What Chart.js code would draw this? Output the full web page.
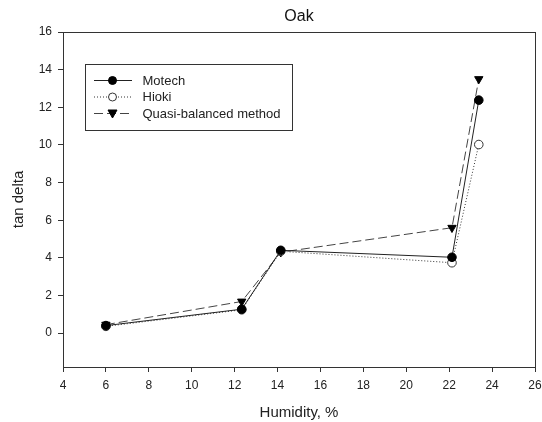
<!DOCTYPE html>
<html>
<head>
<meta charset="utf-8">
<script src="https://cdn.jsdelivr.net/npm/chart.js@4"></script>
<style>
  html, body { margin: 0; padding: 0; background: #fff; }
  #wrap { width: 542px; height: 422px; }
</style>
</head>
<body>
<div id="wrap"><canvas id="myChart" width="542" height="422"></canvas></div>
<script>
// values
const humidity = [6, 12.33, 14.15, 22.13, 23.38];
const motech = [0.4, 1.27, 4.4, 4.03, 12.38];
const hioki = [0.36, 1.24, 4.35, 3.74, 10.02];
const quasi = [0.45, 1.68, 4.3, 5.6, 13.5];
const seriesNames = ['Motech', 'Hioki', 'Quasi-balanced method'];
const xTicks = [4, 6, 8, 10, 12, 14, 16, 18, 20, 22, 24, 26];
const yTicks = [0, 2, 4, 6, 8, 10, 12, 14, 16];

const FONT = 'Liberation Sans, Arial, sans-serif';

function pts(ys) {
    return humidity.map((x, i) => ({ x: x, y: ys[i] }));
}

// box around the plot, title and the legend inside it
const frame = {
    id: 'frame',
    afterDraw(chart) {
        const c = chart.ctx;
        const a = chart.chartArea;
        c.save();
        c.strokeStyle = '#333';
        c.lineWidth = 1;
        c.strokeRect(Math.round(a.left) + 0.5, Math.round(a.top) + 0.5,
            Math.round(a.right - a.left), Math.round(a.bottom - a.top));

        c.fillStyle = '#111';
        c.font = '16px ' + FONT;
        c.textAlign = 'center';
        c.textBaseline = 'middle';
        c.fillText('Oak', (a.left + a.right) / 2, 17);

        // legend
        c.textAlign = 'left';
        c.strokeRect(85.5, 64.5, 207, 66);
        const rows = [80.5, 97, 113.5];
        chart.data.datasets.forEach((ds, i) => {
            const y = rows[i];
            c.beginPath();
            c.setLineDash(ds.borderDash || []);
            c.strokeStyle = ds.borderColor;
            c.lineWidth = ds.borderWidth;
            c.moveTo(94, y);
            c.lineTo(132, y);
            c.stroke();
            c.setLineDash([]);
            c.fillStyle = ds.pointBackgroundColor;
            c.strokeStyle = ds.pointBorderColor;
            c.lineWidth = 1;
            c.beginPath();
            if (ds.pointStyle === 'triangle') {
                c.moveTo(112.5 - 4.5, y - 3.5);
                c.lineTo(112.5 + 4.5, y - 3.5);
                c.lineTo(112.5, y + 4.5);
                c.closePath();
            } else {
                c.arc(112.5, y, 4, 0, Math.PI * 2);
            }
            c.fill();
            c.stroke();
            c.fillStyle = '#222';
            c.font = '13px ' + FONT;
            c.fillText(seriesNames[i], 142.5, y + 0.5);
        });
        c.restore();
    }
};

const ctx = document.getElementById('myChart');

new Chart(ctx, {
    type: 'line',
    data: {
        datasets: [
            {
                label: seriesNames[0],
                data: pts(motech),
                borderColor: '#222',
                borderWidth: 1,
                pointStyle: 'circle',
                pointRadius: 4.3,
                pointBackgroundColor: '#000',
                pointBorderColor: '#000',
                order: 1
            },
            {
                label: seriesNames[1],
                data: pts(hioki),
                borderColor: '#333',
                borderWidth: 1,
                borderDash: [1, 2],
                pointStyle: 'circle',
                pointRadius: 4.3,
                pointBackgroundColor: '#fff',
                pointBorderColor: '#333',
                order: 2
            },
            {
                label: seriesNames[2],
                data: pts(quasi),
                borderColor: '#444',
                borderWidth: 1,
                borderDash: [9, 4],
                pointStyle: 'triangle',
                rotation: 180,
                pointRadius: 4.8,
                pointBackgroundColor: '#000',
                pointBorderColor: '#000',
                order: 3
            }
        ]
    },
    options: {
        responsive: false,
        animation: false,
        layout: { padding: { left: 0, right: 0, top: 32, bottom: 0 } },
        plugins: {
            legend: { display: false },
            tooltip: { enabled: false },
            title: { display: false }
        },
        scales: {
            x: {
                type: 'linear',
                min: 4,
                max: 26,
                afterBuildTicks: (s) => { s.ticks = xTicks.map(v => ({ value: v })); },
                afterFit: (s) => { s.height = 55; s.paddingRight = 7; s.paddingLeft = 0; },
                border: { display: false },
                grid: { drawOnChartArea: false, drawTicks: true, tickLength: 5, color: '#333' },
                ticks: { color: '#222', font: { family: FONT, size: 12 }, padding: 6.5, maxRotation: 0 },
                title: {
                    display: true,
                    text: 'Humidity, %',
                    color: '#222',
                    font: { family: FONT, size: 15 },
                    padding: { top: 0, bottom: 0 }
                }
            },
            y: {
                type: 'linear',
                min: -1.8,
                max: 16,
                afterBuildTicks: (s) => { s.ticks = yTicks.map(v => ({ value: v })); },
                afterFit: (s) => { s.width = 63; s.paddingTop = 0; s.paddingBottom = 0; },
                border: { display: false },
                grid: { drawOnChartArea: false, drawTicks: true, tickLength: 5, color: '#333' },
                ticks: {
                    color: '#222',
                    font: { family: FONT, size: 12 },
                    padding: 6
                },
                title: {
                    display: true,
                    text: 'tan delta',
                    color: '#222',
                    font: { family: FONT, size: 15 },
                    padding: { top: 9.5, bottom: 0 }
                }
            }
        }
    },
    plugins: [frame]
});
</script>
</body>
</html>
